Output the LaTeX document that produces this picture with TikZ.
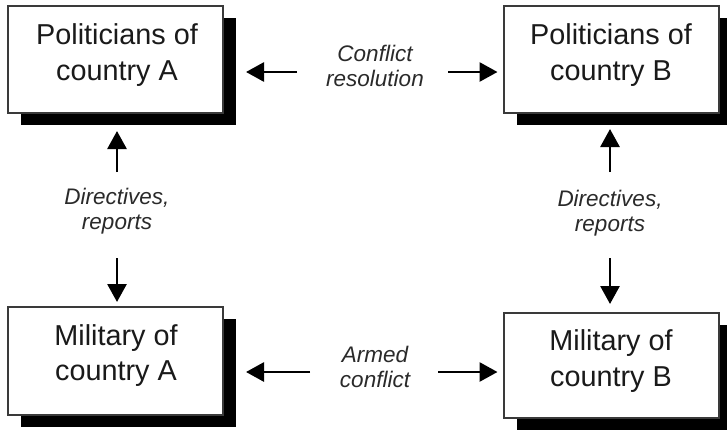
\documentclass[tikz,border=0pt]{standalone}
\usepackage{fontspec}
\setmainfont{Liberation Sans}
\usetikzlibrary{arrows.meta,shadows}
\definecolor{txt}{HTML}{1A1A1A}
\definecolor{lbl}{HTML}{2A2A2A}
\definecolor{frame}{HTML}{3A3A3A}
\begin{document}
\begin{tikzpicture}[x=1pt,y=-1pt,
  actor/.style={draw=frame, line width=2pt, fill=white, minimum width=215pt, inner sep=0pt,
     drop shadow={shadow xshift=13pt, shadow yshift=-12pt, fill=black, opacity=1}},
  boxtext/.style={align=center, text=txt, font=\fontsize{28.8}{35.5}\selectfont, inner sep=0pt},
  lab/.style={align=center, text=lbl, font=\fontsize{22.5}{25.5}\selectfont\itshape, inner sep=0pt},
  arr/.style={line width=2.8pt, draw=black, -{Triangle[length=18pt,width=19pt]}}]
\useasboundingbox (0,0) rectangle (727,431);
\fill[white] (0,0) rectangle (727,431);
% boxes
\node[actor, minimum height=107pt] (pa) at (115.5,59.5) {};
\node[actor, minimum height=107pt] (pb) at (611,59.5) {};
\node[actor, minimum height=108pt] (ma) at (115.5,361) {};
\node[actor, minimum height=105pt] (mb) at (611,365.5) {};
% box texts
\node[boxtext] (pat) at (117,55) {Politicians of\\country A};
\node[boxtext] (pbt) at (611,55) {Politicians of\\country B};
\node[boxtext] (mat) at (116,355.5) {Military of\\country A};
\node[boxtext] (mbt) at (611,361) {Military of\\country B};
% labels
\node[lab] (cr) at (375,66) {Conflict\\resolution};
\node[lab] (ac) at (375,367) {Armed\\conflict};
\node[lab] (da) at (117,211) {Directives,\\reports};
\node[lab] (db) at (610,213) {Directives,\\reports};
\coordinate (crp) at ([yshift=-6pt]cr.center);
\coordinate (acp) at ([yshift=-5pt]ac.center);
% horizontal arrows
\draw[arr, shorten <=78pt, shorten >=22pt] (crp) -- (crp -| pa.east);
\draw[arr, shorten <=73pt, shorten >=5pt] (crp) -- (crp -| pb.west);
\draw[arr, shorten <=65pt, shorten >=22pt] (acp) -- (acp -| ma.east);
\draw[arr, shorten <=63pt, shorten >=5pt] (acp) -- (acp -| mb.west);
% vertical arrows
\draw[arr, shorten <=39pt, shorten >=17pt] (da.center) -- (da.center |- pa.south);
\draw[arr, shorten <=47pt, shorten >=4pt] (da.center) -- (da.center |- ma.north);
\draw[arr, shorten <=41pt, shorten >=15pt] (db.center) -- (db.center |- pb.south);
\draw[arr, shorten <=45pt, shorten >=8pt] (db.center) -- (db.center |- mb.north);
\end{tikzpicture}
\end{document}
